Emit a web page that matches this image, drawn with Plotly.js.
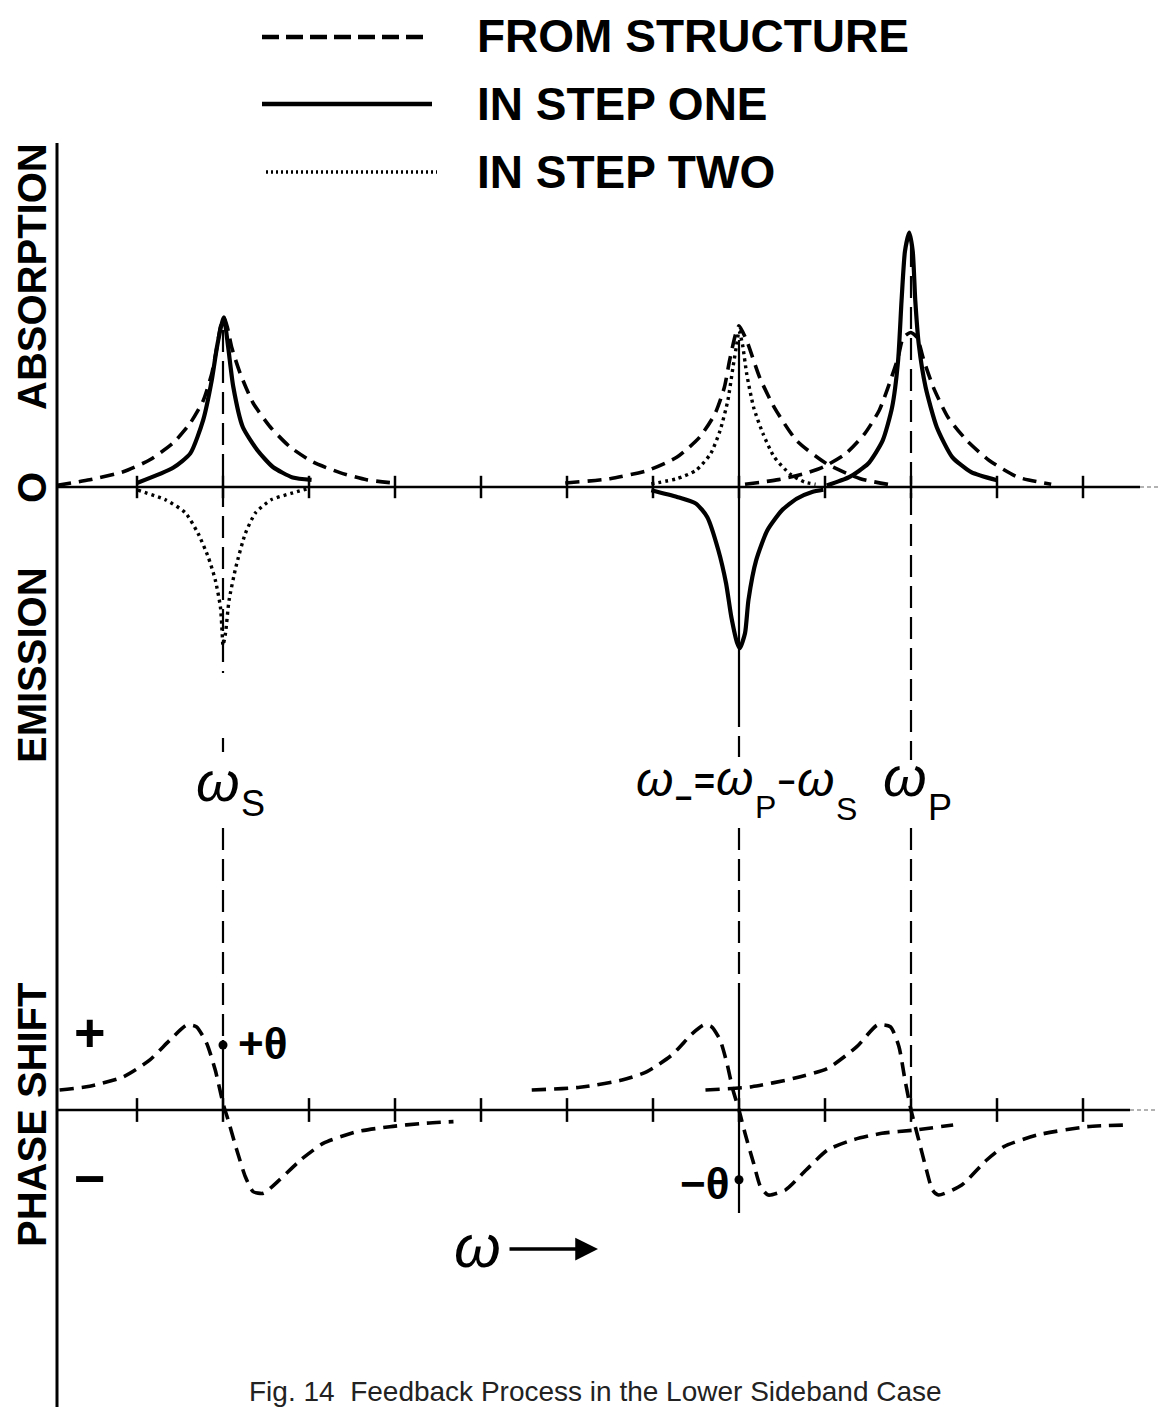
<!DOCTYPE html>
<html><head><meta charset="utf-8">
<script src="https://cdn.plot.ly/plotly-3.0.1.min.js"></script>
<style>html,body{margin:0;padding:0;background:#fff}</style>
</head><body><div id="chart" style="width:1158px;height:1407px"></div>
<script>
// ---------------- DATA ----------------
// x in tick units (ticks at 1..12), absorption in units of the structure peak height,
// phase shift in units of the structure phase maximum.
const tickPositions = [1, 2, 3, 4, 5, 6, 7, 8, 9, 10, 11, 12];
const omegaS = 2, omegaMinus = 8, omegaP = 10;

// "FROM STRUCTURE" (dashed) absorption lines
const structS_x = [0.07, 0.45, 0.84, 1.15, 1.42, 1.62, 1.77, 1.87, 1.93, 1.97, 2.01, 2.05, 2.10, 2.20, 2.35, 2.55, 2.78, 3.05, 3.36, 3.67, 3.98];
const structS_y = [0.01, 0.045, 0.095, 0.17, 0.275, 0.40, 0.54, 0.71, 0.875, 1.0, 1.06, 1.0, 0.875, 0.71, 0.525, 0.375, 0.25, 0.155, 0.09, 0.045, 0.025];
const structM_x = [5.98, 6.5, 6.94, 7.28, 7.54, 7.72, 7.83, 7.89, 7.96, 8.0, 8.09, 8.24, 8.41, 8.67, 9.02, 9.41, 9.80];
const structM_y = [0.025, 0.052, 0.104, 0.187, 0.31, 0.457, 0.623, 0.79, 0.955, 1.007, 0.914, 0.685, 0.498, 0.29, 0.145, 0.052, 0.01];
const structP_x = [8.07, 8.46, 8.76, 8.98, 9.24, 9.46, 9.63, 9.76, 9.85, 9.91, 10.0, 10.07, 10.15, 10.26, 10.43, 10.65, 10.91, 11.24, 11.63];
const structP_y = [0.017, 0.046, 0.083, 0.125, 0.208, 0.332, 0.478, 0.664, 0.81, 0.934, 0.966, 0.934, 0.79, 0.623, 0.436, 0.29, 0.166, 0.062, 0.017];

// "IN STEP ONE" (solid)
const stepOneS_x = [1.0, 1.42, 1.62, 1.77, 1.87, 1.93, 1.99, 2.01, 2.06, 2.12, 2.23, 2.40, 2.58, 2.81, 3.03];
const stepOneS_y = [0.025, 0.12, 0.21, 0.42, 0.67, 0.875, 1.03, 1.06, 0.875, 0.625, 0.375, 0.23, 0.125, 0.06, 0.045];
const stepOneM_x = [6.98, 7.28, 7.5, 7.63, 7.76, 7.85, 7.91, 7.98, 8.01, 8.07, 8.11, 8.2, 8.33, 8.5, 8.67, 8.85, 8.98];
const stepOneM_y = [-0.02, -0.062, -0.104, -0.187, -0.395, -0.603, -0.81, -0.977, -1.007, -0.914, -0.706, -0.457, -0.27, -0.145, -0.073, -0.031, -0.017];
const stepOneP_x = [9.02, 9.28, 9.5, 9.67, 9.78, 9.85, 9.89, 9.93, 9.98, 10.02, 10.05, 10.09, 10.17, 10.3, 10.48, 10.7, 11.0];
const stepOneP_y = [0.01, 0.062, 0.145, 0.29, 0.498, 0.79, 1.163, 1.474, 1.59, 1.474, 1.163, 0.893, 0.623, 0.374, 0.187, 0.093, 0.042];

// "IN STEP TWO" (dotted)
const stepTwoS_x = [1.01, 1.33, 1.56, 1.71, 1.83, 1.91, 1.97, 1.99, 2.0, 2.03, 2.07, 2.15, 2.26, 2.38, 2.56, 2.79, 2.99];
const stepTwoS_y = [-0.02, -0.08, -0.16, -0.29, -0.44, -0.58, -0.75, -0.91, -0.99, -0.91, -0.71, -0.5, -0.29, -0.16, -0.08, -0.04, -0.01];
const stepTwoM_x = [6.98, 7.28, 7.5, 7.67, 7.78, 7.87, 7.93, 7.98, 8.0, 8.04, 8.09, 8.17, 8.28, 8.41, 8.59, 8.76, 8.89];
const stepTwoM_y = [0.02, 0.052, 0.104, 0.208, 0.353, 0.54, 0.748, 0.914, 0.976, 0.893, 0.706, 0.498, 0.332, 0.187, 0.083, 0.031, 0.017];

// Phase shift (dashed, from structure)
const phaseS_x = [0.10, 0.45, 0.84, 1.15, 1.38, 1.58, 1.69, 1.81, 1.91, 2.0, 2.06, 2.16, 2.26, 2.35, 2.47, 2.66, 2.90, 3.17, 3.56, 3.94, 4.33, 4.68];
const phaseS_y = [0.235, 0.28, 0.39, 0.59, 0.82, 1.0, 0.98, 0.785, 0.47, 0.08, -0.12, -0.47, -0.785, -0.96, -0.98, -0.82, -0.59, -0.39, -0.255, -0.196, -0.157, -0.137];
const phaseM_x = [5.59, 6.15, 6.64, 6.93, 7.22, 7.46, 7.59, 7.68, 7.78, 7.86, 7.93, 8.0, 8.07, 8.17, 8.25, 8.34, 8.54, 8.78, 9.03, 9.32, 9.66, 10.05, 10.49];
const phaseM_y = [0.235, 0.267, 0.353, 0.451, 0.647, 0.902, 1.0, 0.98, 0.824, 0.549, 0.235, 0, -0.274, -0.627, -0.902, -1.0, -0.941, -0.706, -0.47, -0.353, -0.274, -0.235, -0.176];
const phaseP_x = [7.61, 8.15, 8.64, 9.03, 9.37, 9.61, 9.76, 9.86, 9.93, 10.0, 10.08, 10.17, 10.25, 10.32, 10.59, 10.88, 11.08, 11.47, 12.05, 12.52];
const phaseP_y = [0.235, 0.274, 0.373, 0.49, 0.745, 1.0, 0.98, 0.745, 0.353, 0, -0.314, -0.667, -0.941, -1.0, -0.882, -0.588, -0.431, -0.294, -0.196, -0.176];

// +theta / -theta points
const theta_x = [omegaS, omegaMinus];
const theta_y = [0.765, -0.82];

const legendLabels = ["FROM STRUCTURE", "IN STEP ONE", "IN STEP TWO"];
const axisLabels = ["ABSORPTION", "O", "EMISSION", "PHASE SHIFT"];
const captionText = "Fig. 14  Feedback Process in the Lower Sideband Case";

// ---------------- LAYOUT GEOMETRY ----------------
const W = 1158, H = 1407, L = 57;
const tx = px => (px - 51) / 86;          // page px -> x units
const ty = py => (487 - py) / 160;        // page px -> absorption units
const ty2 = py => (1110 - py) / 85;       // page px -> phase units
const PX = px => (px - L) / (W - L);      // page px -> paper x
const PY = py => 1 - py / H;              // page px -> paper y

const BLACK = '#000';
const dashed = {color: BLACK, width: 3.6, dash: '14px,8px', shape: 'spline', smoothing: 0.6};
const solid = {color: BLACK, width: 4.2, shape: 'spline', smoothing: 0.6};
const dotted = {color: BLACK, width: 3.4, dash: '3px,4px', shape: 'spline', smoothing: 0.6};

function line(x, y, style, yaxis) {
  return {type: 'scatter', mode: 'lines', x: x, y: y, line: style, yaxis: yaxis || 'y', hoverinfo: 'skip', showlegend: false};
}
const traces = [
  line(structS_x, structS_y, dashed), line(structM_x, structM_y, dashed), line(structP_x, structP_y, dashed),
  line(stepOneS_x, stepOneS_y, solid), line(stepOneM_x, stepOneM_y, solid), line(stepOneP_x, stepOneP_y, solid),
  line(stepTwoS_x, stepTwoS_y, dotted), line(stepTwoM_x, stepTwoM_y, dotted),
  line(phaseS_x, phaseS_y, dashed, 'y2'), line(phaseM_x, phaseM_y, dashed, 'y2'), line(phaseP_x, phaseP_y, dashed, 'y2'),
  {type: 'scatter', mode: 'markers', x: tickPositions, y: tickPositions.map(() => 0), yaxis: 'y',
   marker: {symbol: 'line-ns', size: 16, line: {width: 2.5, color: BLACK}}, hoverinfo: 'skip', showlegend: false},
  {type: 'scatter', mode: 'markers', x: tickPositions, y: tickPositions.map(() => 0), yaxis: 'y2',
   marker: {symbol: 'line-ns', size: 17, line: {width: 2.5, color: BLACK}}, hoverinfo: 'skip', showlegend: false},
  {type: 'scatter', mode: 'markers', x: theta_x, y: theta_y, yaxis: 'y2',
   marker: {symbol: 'circle', size: 9, color: BLACK}, hoverinfo: 'skip', showlegend: false}
];

// ---------------- SHAPES ----------------
const shapes = [];
function vseg(x, y0, y1, yref, dash, width) {
  shapes.push({type: 'line', xref: 'x', yref: yref, x0: x, x1: x, y0: y0, y1: y1,
    line: {color: BLACK, width: width || 2.2, dash: dash || 'solid'}});
}
const guideDash = '22px,9px';
// omega_S guide
vseg(omegaS, ty(330), ty(673), 'y', guideDash);
vseg(omegaS, ty(738), ty(752), 'y');
vseg(omegaS, ty2(828), ty2(1040), 'y2', guideDash);
vseg(omegaS, ty2(1040), ty2(1110), 'y2');
// omega_- guide
vseg(omegaMinus, ty(340), ty(705), 'y');
vseg(omegaMinus, ty(705), ty(757), 'y', guideDash);
vseg(omegaMinus, ty2(828), ty2(990), 'y2', guideDash);
vseg(omegaMinus, ty2(990), ty2(1213), 'y2');
// omega_P guide
vseg(omegaP, ty(245), ty(760), 'y', guideDash);
vseg(omegaP, ty2(828), ty2(1110), 'y2', guideDash);
// left axis line
shapes.push({type: 'line', xref: 'paper', yref: 'paper', x0: 0, x1: 0, y0: 0, y1: PY(143), line: {color: BLACK, width: 3}});
// baselines
shapes.push({type: 'line', xref: 'paper', yref: 'y', x0: 0, x1: PX(1140), y0: 0, y1: 0, line: {color: BLACK, width: 2.5}});
shapes.push({type: 'line', xref: 'paper', yref: 'y', x0: PX(1140), x1: 1, y0: 0, y1: 0, line: {color: '#999', width: 1.5, dash: '4px,3px'}});
shapes.push({type: 'line', xref: 'paper', yref: 'y2', x0: 0, x1: PX(1130), y0: 0, y1: 0, line: {color: BLACK, width: 2.5}});
shapes.push({type: 'line', xref: 'paper', yref: 'y2', x0: PX(1130), x1: 1, y0: 0, y1: 0, line: {color: '#999', width: 1.5, dash: '4px,3px'}});
// legend swatches
shapes.push({type: 'line', xref: 'paper', yref: 'paper', x0: PX(262), x1: PX(430), y0: PY(37), y1: PY(37), line: {color: BLACK, width: 4.5, dash: '17px,7px'}});
shapes.push({type: 'line', xref: 'paper', yref: 'paper', x0: PX(262), x1: PX(432), y0: PY(104), y1: PY(104), line: {color: BLACK, width: 4.5}});
shapes.push({type: 'line', xref: 'paper', yref: 'paper', x0: PX(266), x1: PX(437), y0: PY(172), y1: PY(172), line: {color: BLACK, width: 3.5, dash: '2px,3px'}});

// ---------------- ANNOTATIONS ----------------
const SANS = 'Liberation Sans, Arial, sans-serif';
const ann = [];
function txt(text, px, py, size, opts) {
  ann.push(Object.assign({text: text, xref: 'paper', yref: 'paper', x: PX(px), y: PY(py),
    xanchor: 'center', yanchor: 'middle', showarrow: false,
    font: {family: SANS, size: size, color: BLACK}}, opts || {}));
}
// a run of text pieces laid side by side (each piece with its own size and baseline)
const mctx = document.createElement('canvas').getContext('2d');
function measure(t, size, style) {
  mctx.font = (style === 'i' ? 'italic ' : style === 'b' ? 'bold ' : '') + size + 'px "Liberation Sans"';
  return mctx.measureText(t).width;
}
function run(pieces, leftPx) {
  let x = leftPx;
  pieces.forEach(p => {
    const w = measure(p[0], p[1], p[3]);
    const t = p[3] === 'i' ? '<i>' + p[0] + '</i>' : p[3] === 'b' ? '<b>' + p[0] + '</b>' : p[0];
    ann.push({text: t, xref: 'paper', yref: 'paper', x: PX(x), y: PY(p[2] + 0.212 * p[1]),
      xanchor: 'left', yanchor: 'bottom', showarrow: false, borderpad: 0, borderwidth: 0,
      font: {family: SANS, size: p[1], color: BLACK}});
    x += w + 1.5;
  });
}
// legend text
txt('<b>' + legendLabels[0] + '</b>', 475, 36, 46, {xanchor: 'left'});
txt('<b>' + legendLabels[1] + '</b>', 475, 104, 46, {xanchor: 'left'});
txt('<b>' + legendLabels[2] + '</b>', 475, 172, 46, {xanchor: 'left'});
// left axis labels
txt('<b>' + axisLabels[0] + '</b>', 32, 277, 40, {textangle: -90});
txt('<b>' + axisLabels[1] + '</b>', 32, 488, 40, {textangle: -90});
txt('<b>' + axisLabels[2] + '</b>', 32, 665, 40, {textangle: -90});
txt('<b>' + axisLabels[3] + '</b>', 32, 1115, 40, {textangle: -90});
// omega labels: [text, size, baseline px, style]
run([['ω', 56, 801, 'i'], ['S', 36, 816]], 196);
run([['ω', 48, 796, 'i'], ['−', 30, 808, 'b'], ['=', 36, 794, 'b'], ['ω', 48, 795, 'i'], ['P', 32, 818],
     ['−', 30, 792, 'b'], ['ω', 48, 796, 'i'], ['S', 32, 820]], 636);
run([['ω', 56, 796, 'i'], ['P', 36, 820]], 883);
// phase labels
txt('<b>+</b>', 90, 1032, 54);
txt('<b>−</b>', 90, 1178, 54);
txt('<b>+θ</b>', 236, 1043, 44, {xanchor: 'left'});
txt('<b>−θ</b>', 731, 1183, 44, {xanchor: 'right'});
// omega arrow
txt('<i>ω</i>', 477, 1246, 60);
ann.push({text: '', xref: 'x', yref: 'y', x: tx(598), y: ty(1249), axref: 'x', ayref: 'y', ax: tx(508), ay: ty(1249),
  showarrow: true, arrowhead: 2, arrowsize: 1.3, arrowwidth: 3.5, arrowcolor: BLACK});
// caption
txt(captionText, 595, 1391, 28, {font: {family: SANS, size: 28, color: '#222'}});

const layout = {
  width: W, height: H, autosize: false,
  margin: {l: L, r: 0, t: 0, b: 0, pad: 0},
  paper_bgcolor: '#fff', plot_bgcolor: '#fff',
  showlegend: false,
  xaxis: {range: [tx(L), tx(W)], visible: false, fixedrange: true},
  yaxis: {range: [ty(H), ty(0)], visible: false, fixedrange: true},
  yaxis2: {range: [ty2(H), ty2(0)], overlaying: 'y', visible: false, fixedrange: true},
  shapes: shapes,
  annotations: ann
};
Plotly.newPlot('chart', traces, layout, {staticPlot: true, displayModeBar: false});
</script></body></html>
